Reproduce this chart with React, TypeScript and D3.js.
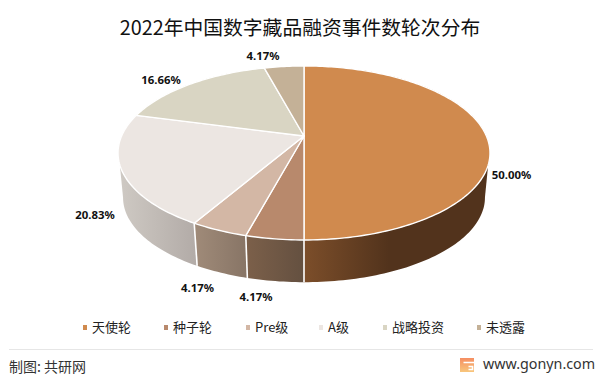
import React from "react";
import * as d3 from "d3";

const categories = ["天使轮", "种子轮", "Pre级", "A级", "战略投资", "未透露"];
const shares = [50.0, 4.17, 4.17, 20.83, 16.66, 4.17];
const shareLabels = ["50.00%", "4.17%", "4.17%", "20.83%", "16.66%", "4.17%"];
const topColors = ["#D08A4E", "#B8896C", "#D3B7A5", "#ECE6E2", "#D9D5C3", "#C4B197"];
const sideFrom = ["#7C4E2A", "#7C604A", "#A08B79", "#CFCAC4", "#B9B6A8", "#A99A84"];
const sideTo = ["#52331C", "#645040", "#887566", "#B3ACA8", "#B9B6A8", "#A99A84"];
const labelAnchors = [[511.5, 174], [256, 296], [197.5, 287], [95, 214.5], [161, 79], [263, 55]];
const legendMarkX = [85, 166, 248, 321, 385, 479];
const FONT = "'Noto Sans CJK SC', 'Noto Sans', sans-serif";

const persp = -0.195;
const bx = 182.4;
const by = 83.7;
function project(angle: number, apexY: number, scale: number): [number, number] {
  const X = Math.sin(angle);
  const Y = -Math.cos(angle);
  const d = 1 + persp * Y;
  return [304 + (scale * bx * X) / d, apexY + (scale * by * Y) / d];
}
const TOP_APEX = 136;
const LOW_APEX = 181;
const LOW_SCALE = 0.973;
const deg = Math.PI / 180;

function arcPts(a0: number, a1: number, apexY: number, scale: number) {
  const n = Math.max(2, Math.ceil(Math.abs(a1 - a0) / 0.02));
  return d3.range(n + 1).map((i) => project(a0 + ((a1 - a0) * i) / n, apexY, scale));
}
const line = d3.line();

// Silhouette wedge joining the rim to the lower ring at the widest point of the wall.
function silhouette(rimAngle: number, lowAngle: number, innerAngle: number) {
  return line([
    project(rimAngle, TOP_APEX, 1),
    project(lowAngle, LOW_APEX, LOW_SCALE),
    project(innerAngle, TOP_APEX, 1),
  ]) + "Z";
}

export default function App() {
  const arcs = d3.pie<number>().sort(null)(shares);
  return (
    <svg width={600} height={378} style={{ position: "absolute", left: 0, top: 0, background: "#fff" }} fontFamily={FONT}>
      <defs>
        {arcs.map((a, i) => {
          const p0 = project(a.startAngle, TOP_APEX, 1)[0];
          const p1 = project(a.endAngle, TOP_APEX, 1)[0];
          const lo = i === 0 ? p1 : i === 3 ? 118 : Math.min(p0, p1);
          const hi = i === 0 ? p1 + 85 : i === 3 ? p0 : Math.max(p0, p1);
          return (
            <linearGradient key={i} id={`side${i}`} gradientUnits="userSpaceOnUse" x1={lo} x2={hi} y1={0} y2={0}>
              <stop offset="0" stopColor={sideFrom[i]} />
              <stop offset="1" stopColor={sideTo[i]} />
            </linearGradient>
          );
        })}
        <linearGradient id="logo" x1="0" x2="0" y1="0" y2="1">
          <stop offset="0" stopColor="#F58E62" />
          <stop offset="1" stopColor="#F8C67C" />
        </linearGradient>
      </defs>
      <text x={300} y={34.5} textAnchor="middle" fontSize={19.8} fill="#111">2022年中国数字藏品融资事件数轮次分布</text>

      {arcs.map((a, i) => {
        const upper = arcPts(a.startAngle, a.endAngle, TOP_APEX, 1);
        const lower = arcPts(a.endAngle, a.startAngle, LOW_APEX, LOW_SCALE);
        return <path key={i} d={line([...upper, ...lower]) + "Z"} fill={`url(#side${i})`} />;
      })}
      <path d={silhouette(109 * deg, 101.2 * deg, 129 * deg)} fill="url(#side0)" />
      <path d={silhouette(251 * deg, 258.8 * deg, 231 * deg)} fill="url(#side3)" />
      {arcs.slice(0, 3).map((a, i) => {
        const seg: [number, number][] = [project(a.endAngle, TOP_APEX, 1), project(a.endAngle, LOW_APEX, LOW_SCALE)];
        return <path key={i} d={line(seg) ?? ""} stroke="#fff" strokeWidth={1.6} fill="none" />;
      })}
      {arcs.map((a, i) => {
        const pts: [number, number][] = [[304, TOP_APEX], ...arcPts(a.startAngle, a.endAngle, TOP_APEX, 1)];
        return <path key={i} d={line(pts) + "Z"} fill={topColors[i]} stroke="#fff" strokeWidth={1.4} strokeLinejoin="round" />;
      })}

      {shareLabels.map((s, i) => (
        <text key={i} x={labelAnchors[i][0]} y={labelAnchors[i][1]} textAnchor="middle" dominantBaseline="central" fontFamily="'Noto Sans', sans-serif" fontWeight={700} fontSize={11.4} fill="#111">{s}</text>
      ))}

      {categories.map((c, i) => (
        <g key={i}>
          <rect x={legendMarkX[i] - 2} y={325} width={4} height={5} fill={topColors[i]} />
          <text x={legendMarkX[i] + 7} y={332} fontSize={13} fill="#222">{c}</text>
        </g>
      ))}

      <line x1={9} x2={593} y1={349.5} y2={349.5} stroke="#E6E6E6" />
      <text x={9} y={372} fontSize={14} fill="#333">制图: 共研网</text>
      <path d="M460 358h14v14h-14z" fill="url(#logo)" />
      <path d="M463.5 362.5h10.5M468.5 366.5h4v3h-4" stroke="#fff" strokeWidth={1.6} fill="none" />
      <text x={483} y={369} fontFamily="'Noto Sans', sans-serif" fontSize={14.3} fill="#333">www.gonyn.com</text>
    </svg>
  );
}
